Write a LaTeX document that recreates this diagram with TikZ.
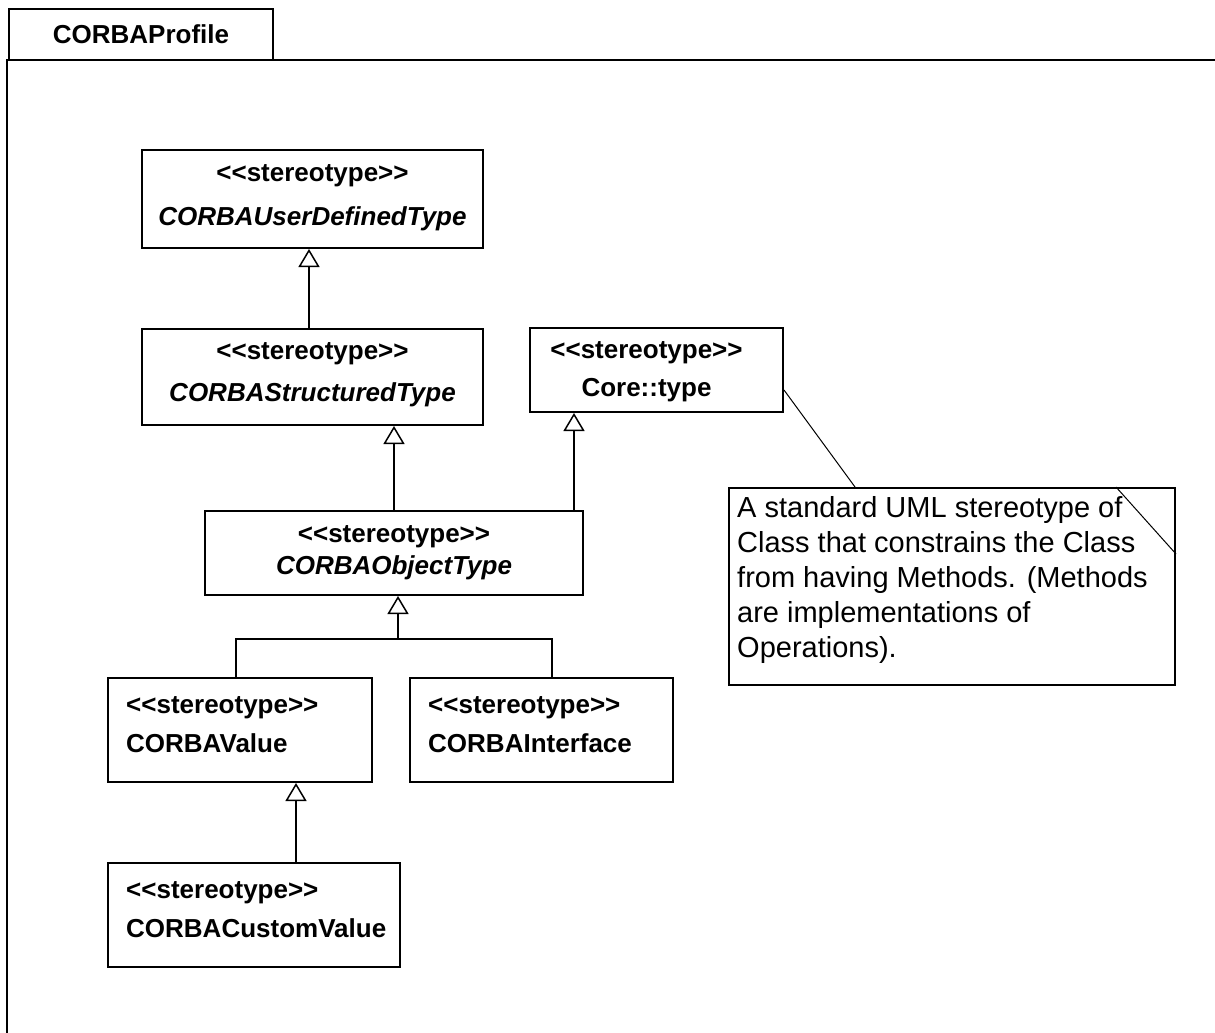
\documentclass[tikz,border=0pt]{standalone}
\usepackage{fontspec}
\newfontfamily\umlfont{Liberation Sans}
\usetikzlibrary{arrows.meta, positioning}
\tikzset{
    %Define generalisation arrow tip
    >={Triangle[open,length=18pt,width=21pt,line width=1.5pt]},
}

\begin{document}
\begin{tikzpicture}[
  x=1pt, y=-1pt,
  every node/.style = {shape=rectangle, inner sep=0pt},
  cls/.style = {draw, line width=2pt},
  stereo/.style = {font=\umlfont\bfseries\fontsize{26}{32}\selectfont},
  comment/.style = {font=\umlfont\fontsize{29}{35}\selectfont, align=left},
  gen/.style = {->, line width=2pt},
  link/.style = {line width=2pt},
  frame/.style = {line width=2.5pt} ]
  \useasboundingbox (0,0) rectangle (1215,1033);

  % package frame and tab
  \draw[frame] (7,1033) -- (7,60) -- (1215,60);
  \node[cls, stereo, minimum width=264pt, minimum height=51pt] (pkg) at (141,34.5) {CORBAProfile};

  % classes
  \node[cls, minimum width=341pt, minimum height=98pt] (udt) at (312.5,199) {};
  \node[stereo, align=center, below=15pt of udt.north] (udt-txt)
    {<<stereotype>>\\[12pt] {\itshape CORBAUserDefinedType}};
  \node[cls, minimum width=341pt, minimum height=96pt] (st) at (312.5,377) {};
  \node[stereo, align=center, below=14pt of st.north] (st-txt)
    {<<stereotype>>\\[10pt] {\itshape CORBAStructuredType}};
  \node[cls, minimum width=253pt, minimum height=84pt] (core) at (656.5,370) {};
  \node[stereo, align=center, below=14.5pt of core.north, xshift=-10pt] (core-txt)
    {<<stereotype>>\\[6pt] Core::type};
  \node[cls, minimum width=378pt, minimum height=84pt] (obj) at (394,553) {};
  \node[stereo, align=center, below=15.5pt of obj.north] (obj-txt)
    {<<stereotype>>\\ {\itshape CORBAObjectType}};
  \node[cls, minimum width=264pt, minimum height=104pt] (val) at (240,730) {};
  \node[stereo, align=left, below right=19pt and 19pt of val.north west] (val-txt)
    {<<stereotype>>\\[7pt] CORBAValue};
  \node[cls, minimum width=263pt, minimum height=104pt] (intf) at (541.5,730) {};
  \node[stereo, align=left, below right=19pt and 19pt of intf.north west] (intf-txt)
    {<<stereotype>>\\[7pt] CORBAInterface};
  \node[cls, minimum width=292pt, minimum height=104pt] (cust) at (254,915) {};
  \node[stereo, align=left, below right=19pt and 19pt of cust.north west] (cust-txt)
    {<<stereotype>>\\[7pt] CORBACustomValue};

  % note
  \node[cls, minimum width=446pt, minimum height=197pt] (note) at (952,586.5) {};
  \node[comment, below right=9pt and 9pt of note.north west] (note-txt)
    {A standard UML stereotype of\\ Class that constrains the Class\\
     from having Methods. (Methods\\ are implementations of\\ Operations).};
  \draw[line width=1pt] ([xshift=-60pt]note.north east) -- ([yshift=-67pt]note.north east);
  \draw[line width=1pt] ([yshift=-20pt]core.east) -- ([xshift=-97pt]note.north);

  % generalisations
  \draw[gen] ([xshift=-3.5pt]st.north) -- ([xshift=-3.5pt]st.north |- udt.south);
  \draw[gen] (obj.north) -- (obj.north |- st.south);
  \draw[gen] ([xshift=180pt]obj.north) -- ([xshift=180pt]obj.north |- core.south);
  \coordinate[below=43pt of obj.south, xshift=4pt] (fork);
  \draw[gen] (fork) -- (fork |- obj.south);
  \draw[link] ([xshift=-4pt]val.north) |- (fork) -| ([xshift=10.5pt]intf.north);
  \draw[gen] ([xshift=42pt]cust.north) -- ([xshift=42pt]cust.north |- val.south);
\end{tikzpicture}
\end{document}
